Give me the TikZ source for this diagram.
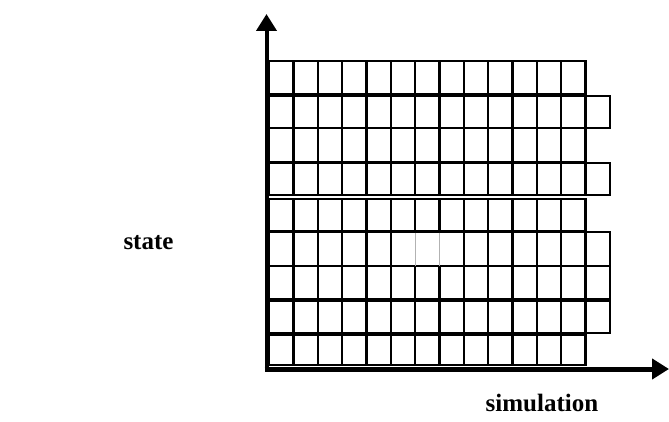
\documentclass[tikz,border=0pt]{standalone}
\usepackage{fontspec}
\setmainfont{Liberation Serif}
\usepackage{tikz}
\usetikzlibrary{arrows.meta,positioning,calc}
\tikzset{
  cell/.style={draw=black, line width=2.3pt, fill=white},
  axis/.style={line width=#1, -{Triangle[length=17pt,width=20pt]}},
  axis/.default={4.5pt},
  axlabel/.style={font=\fontsize{25}{30}\selectfont\bfseries, inner sep=0pt},
}

\begin{document}
\begin{tikzpicture}[x=1pt, y=1pt, cw/.store in=\cw, cw=24.35]
\useasboundingbox (0,0) rectangle (669,421);
% rows: top / bottom / number of cells
\foreach \yt/\yb/\n in {360/327/13, 325/293/14, 293/259/13, 258/226/14, 222/190/13,
  189/155/14, 155/122/14, 120/88/14, 86/56/13}
  \foreach \i in {1,...,\n}
    \draw[cell] ({269+\cw*(\i-1)}, \yb) rectangle ({269+\cw*\i}, \yt);
% the pale cell
\foreach \i in {6,7} {
  \fill[white] ({269+\cw*\i-1.5}, 187.8) rectangle ({269+\cw*\i+1.5}, 156.2);
  \draw[gray!60, line width=1pt] ({269+\cw*\i}, 188.5) -- ({269+\cw*\i}, 155.5);
}
% axes
\coordinate (O) at (266.5, 52);
\coordinate (ytip) at (266.5, 407);
\coordinate (xtip) at (669, 52);
\draw[axis=4pt] ($(O)+(0,-2.5)$) -- (ytip);
\draw[axis=5pt] ($(O)+(-2,0)$) -- (xtip);
\node[axlabel] (state) at (148.5, 178) {state};
\node[axlabel] (sim) at (542, 18) {simulation};
\end{tikzpicture}
\end{document}
